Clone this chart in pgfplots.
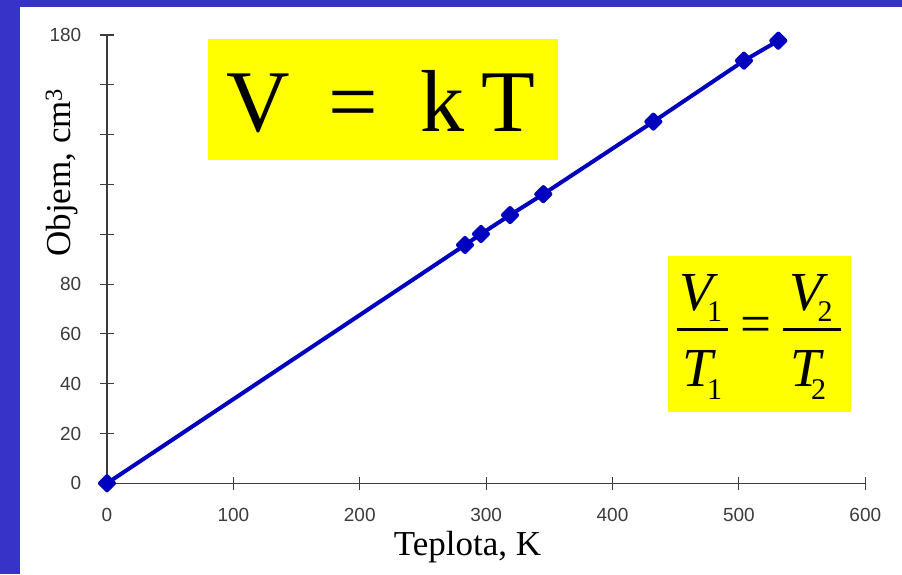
\documentclass[border=0pt]{standalone}
\usepackage{pgfplots}
\pgfplotsset{compat=1.18}
\usepackage{fontspec}
\setmainfont{Liberation Serif}
\newfontfamily\arialfont{Liberation Sans}

\definecolor{slideblue}{RGB}{56,51,200}
\definecolor{hiyellow}{RGB}{255,255,0}
\definecolor{lineblue}{RGB}{0,0,190}
\definecolor{axisgray}{RGB}{60,60,60}

\begin{document}
\begin{tikzpicture}[x=1pt,y=1pt]
\useasboundingbox (0,0) rectangle (902,574);
% slide frame
\fill[slideblue] (0,0) rectangle (902,574);
\fill[white] (20,0) rectangle (902,567);
% highlight boxes for the formulas
\fill[hiyellow] (208,414) rectangle (557.7,535);
\fill[hiyellow] (668.3,162.3) rectangle (851,318.3);

\begin{axis}[
  at={(107pt,90.7pt)}, anchor=south west,
  scale only axis, width=758.3pt, height=448.3pt,
  xmin=0, xmax=600, ymin=0, ymax=180,
  clip=false,
  axis lines=left,
  axis line style={-, draw=axisgray, line width=1.1pt},
  xtick={0,100,200,300,400,500,600},
  ytick={0,20,40,60,80,100,120,140,160,180},
  yticklabels={0,20,40,60,80,{},{},{},{},180},
  tick align=center,
  major tick length=13pt,
  major tick style={draw=axisgray, line width=1.1pt},
  /pgf/number format/assume math mode=true,
  ticklabel style={font=\arialfont\fontsize{19}{19}\selectfont, text=axisgray, inner sep=0pt},
  xticklabel style={anchor=north, yshift=-18pt},
  yticklabel style={anchor=east, xshift=-19pt},
  xlabel={Teplota, K},
  xlabel style={at={(axis cs:285.3,-28.8)}, anchor=base, inner sep=0pt,
    font=\fontsize{35}{35}\selectfont},
  ylabel={Objem, cm\textsuperscript{3}},
  ylabel style={at={(axis cs:-28.5,124.8)}, anchor=base, inner sep=0pt,
    font=\fontsize{35}{35}\selectfont},
]
\addplot[lineblue, line width=4pt, line join=round,
  mark=square*, mark size=5pt, mark options={rotate=45, solid, fill=lineblue}]
  coordinates {
    (0,0)
    (283.3,95.7)
    (295.9,100.1)
    (318.9,107.7)
    (345.2,116.1)
    (432.3,145.2)
    (504.0,169.7)
    (531.2,177.7)
  };
\end{axis}

% V = k T
\begin{scope}[every node/.style={inner sep=0pt, anchor=base}]
\node at (257.8,442.3) {\fontsize{88}{88}\selectfont V};
\node at (353.5,442.3) {\fontsize{88}{88}\selectfont =};
\node at (442.0,442.3) {\fontsize{88}{88}\selectfont k};
\node at (508.3,442.3) {\fontsize{88}{88}\selectfont T};
% V1/T1 = V2/T2
\node at (695.8,264.0) {\fontsize{55}{55}\selectfont\itshape V};
\node at (714.5,252.3) {\fontsize{30}{30}\selectfont 1};
\node at (698.0,187.3) {\fontsize{55}{55}\selectfont\itshape T};
\node at (714.5,174.7) {\fontsize{30}{30}\selectfont 1};
\node at (805.8,264.0) {\fontsize{55}{55}\selectfont\itshape V};
\node at (825.0,252.3) {\fontsize{30}{30}\selectfont 2};
\node at (806.0,187.3) {\fontsize{55}{55}\selectfont\itshape T};
\node at (818.5,174.7) {\fontsize{30}{30}\selectfont 2};
\end{scope}
\node[inner sep=0pt, anchor=center] at (756.2,244.0) {\fontsize{55}{55}\selectfont =};
\draw[line width=2.7pt] (676.7,244.7) -- (727.7,244.7);
\draw[line width=2.7pt] (783.3,244.7) -- (841.0,244.7);
\end{tikzpicture}
\end{document}
